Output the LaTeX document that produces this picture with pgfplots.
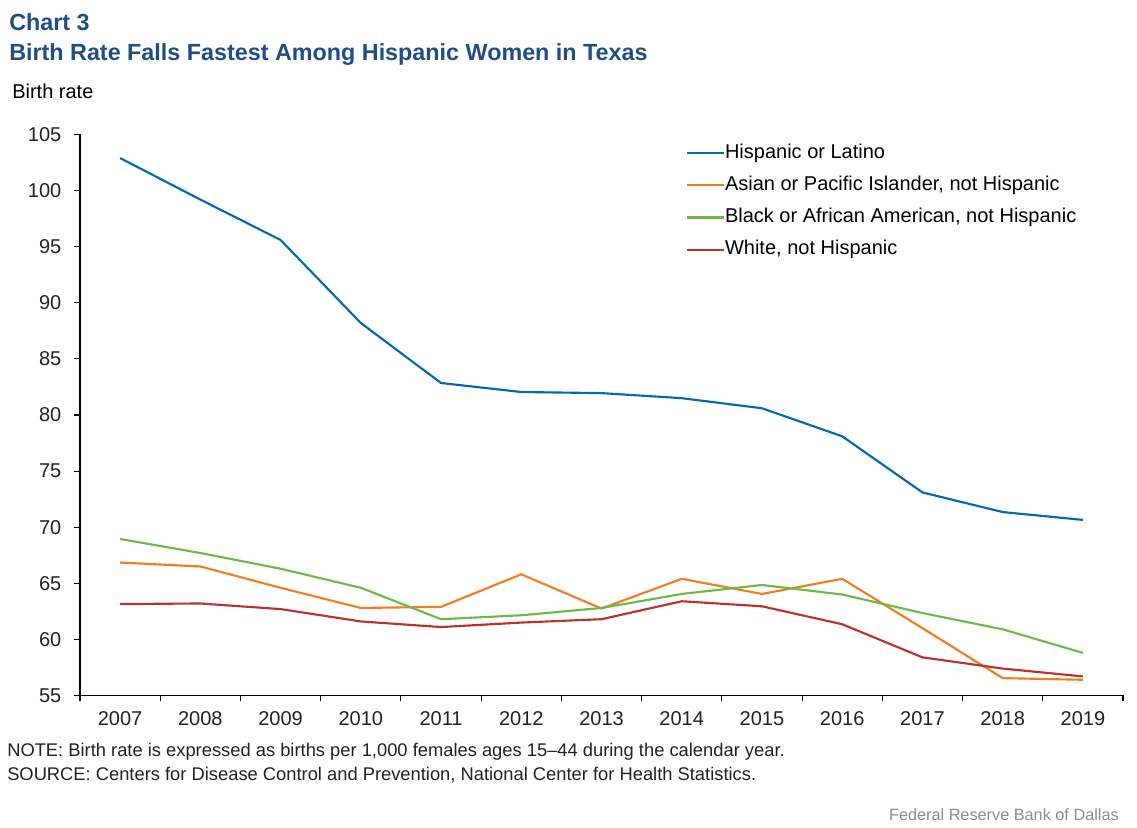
\documentclass[border=0pt]{standalone}
\usepackage{fontspec}
\setmainfont{Liberation Sans}
\usepackage{pgfplots}
\pgfplotsset{compat=1.18}
\definecolor{cblue}{RGB}{0,104,180}
\definecolor{corange}{RGB}{244,124,32}
\definecolor{cgreen}{RGB}{108,186,70}
\definecolor{cred}{RGB}{192,48,43}
\definecolor{ctitle}{RGB}{31,78,135}
\definecolor{cgray}{RGB}{140,140,140}
\begin{document}
\begin{tikzpicture}
\path[use as bounding box] (-60pt,-98.625pt) rectangle (792.75pt,521.625pt);
\begin{axis}[
  at={(0pt,0pt)}, anchor=south west,
  scale only axis, width=782.25pt, height=420.75pt,
  xmin=-0.5, xmax=12.5, ymin=55, ymax=105,
  axis lines*=left,
  axis line style={black, line width=0.8pt},
  tick align=outside,
  major tick length=4.5pt,
  tick style={black, line width=0.8pt},
  xtick={-0.5,0.5,...,12.5},
  xticklabels={},
  extra x ticks={0,1,...,12},
  extra x tick labels={2007,2008,2009,2010,2011,2012,2013,2014,2015,2016,2017,2018,2019},
  extra x tick style={tick style={draw=none}, xticklabel style={yshift=-4pt}},
  ytick={55,60,...,105},
  yticklabel style={xshift=-6pt},
  /pgf/number format/assume math mode=true,
  ticklabel style={font=\fontsize{15}{18}\selectfont, text=black!87},
  legend cell align=left,
  legend style={at={(0.581,0.983)}, anchor=north west, draw=none, fill=none,
    inner sep=0pt, row sep=10.6pt, font=\fontsize{15}{18}\selectfont,
    nodes={inner sep=0pt, text height=10.5pt, text depth=3pt}},
  legend image code/.code={\draw[#1] (0pt,0pt) -- (24pt,0pt);\path (24pt,0pt) -- (27.5pt,0pt);},
  every axis plot/.append style={line width=1.6pt},
]
\addplot[cblue] coordinates {(0,102.9) (1,99.2) (2,95.6) (3,88.2) (4,82.85) (5,82.05) (6,81.95) (7,81.5) (8,80.6) (9,78.1) (10,73.1) (11,71.35) (12,70.65)};
\addlegendentry{Hispanic or Latino}
\addplot[corange] coordinates {(0,66.85) (1,66.5) (2,64.6) (3,62.8) (4,62.9) (5,65.8) (6,62.75) (7,65.4) (8,64.05) (9,65.4) (10,61.0) (11,56.55) (12,56.4)};
\addlegendentry{Asian or Pacific Islander, not Hispanic}
\addplot[cgreen] coordinates {(0,68.95) (1,67.7) (2,66.3) (3,64.6) (4,61.8) (5,62.15) (6,62.8) (7,64.05) (8,64.85) (9,64.0) (10,62.35) (11,60.9) (12,58.8)};
\addlegendentry{Black or African American, not Hispanic}
\addplot[cred] coordinates {(0,63.15) (1,63.2) (2,62.7) (3,61.6) (4,61.1) (5,61.5) (6,61.8) (7,63.4) (8,62.95) (9,61.35) (10,58.4) (11,57.4) (12,56.7)};
\addlegendentry{White, not Hispanic}
\end{axis}
\node[anchor=base west, inner sep=0pt, text=ctitle, font=\fontsize{17.5}{20}\selectfont\bfseries] at (-53.25pt,499.1pt) {Chart 3};
\node[anchor=base west, inner sep=0pt, text=ctitle, font=\fontsize{17.5}{20}\selectfont\bfseries] at (-53.25pt,476.6pt) {Birth Rate Falls Fastest Among Hispanic Women in Texas};
\node[anchor=base west, inner sep=0pt, font=\fontsize{15}{18}\selectfont] at (-51pt,448.1pt) {Birth rate};
\node[anchor=base west, inner sep=0pt, font=\fontsize{13.75}{16}\selectfont, text=black!87] at (-54.75pt,-45.4pt) {NOTE: Birth rate is expressed as births per 1,000 females ages 15--44 during the calendar year.};
\node[anchor=base west, inner sep=0pt, font=\fontsize{13.75}{16}\selectfont, text=black!87] at (-54.75pt,-63.4pt) {SOURCE: Centers for Disease Control and Prevention, National Center for Health Statistics.};
\node[anchor=base east, inner sep=0pt, font=\fontsize{12.2}{15}\selectfont, text=cgray] at (779.25pt,-93.4pt) {Federal Reserve Bank of Dallas};
\end{tikzpicture}
\end{document}
